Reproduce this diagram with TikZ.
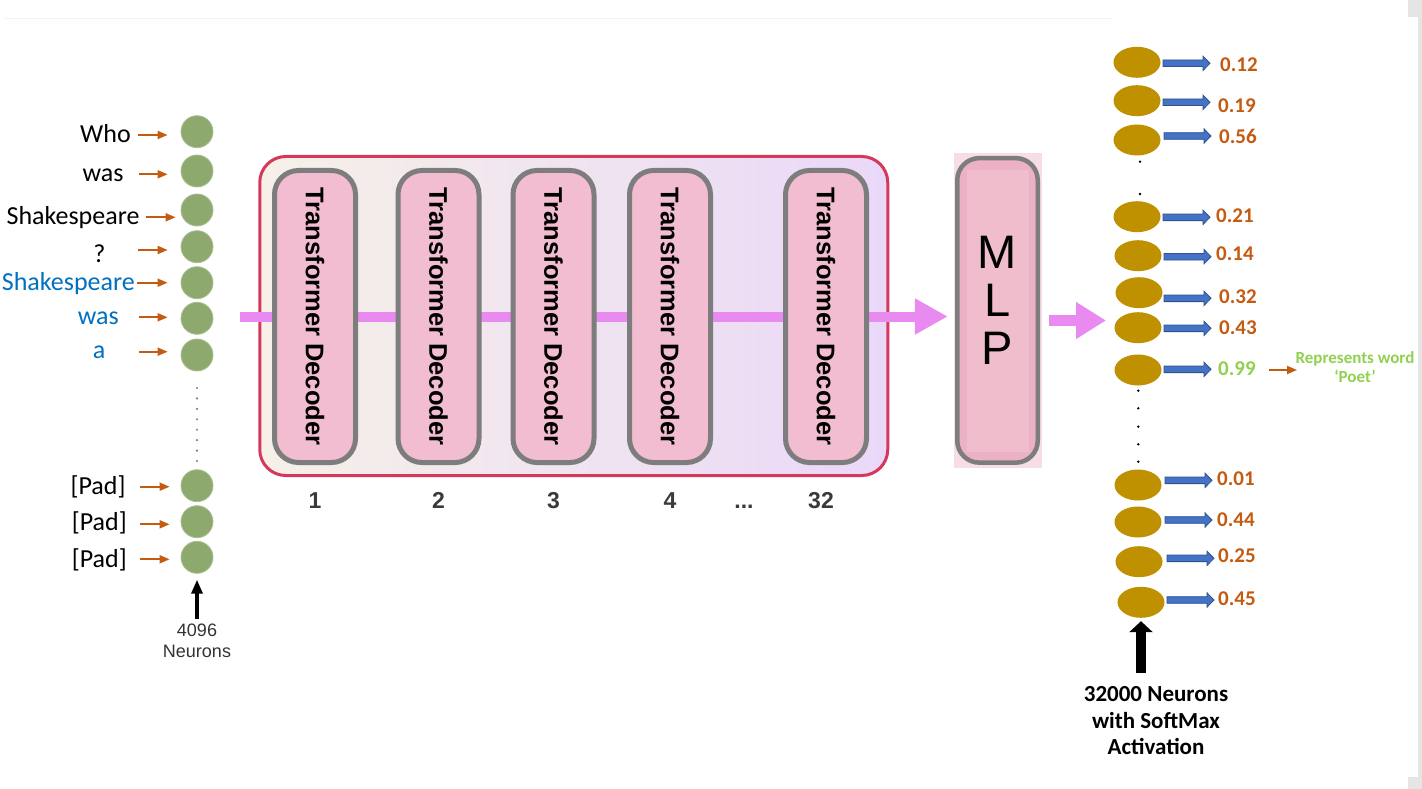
\documentclass[tikz,border=0pt]{standalone}
\usepackage{fontspec}
\setmainfont{Carlito}
\newfontfamily\helvfont{Liberation Sans}
\usetikzlibrary{arrows.meta,shapes.geometric}

% palette
\definecolor{neurongreen}{RGB}{142,169,110}
\definecolor{tokorange}{RGB}{197,90,17}
\definecolor{tokblue}{RGB}{0,112,192}
\definecolor{flowpink}{RGB}{233,138,240}
\definecolor{framered}{RGB}{214,56,92}
\definecolor{stackL}{RGB}{246,240,232}
\definecolor{stackM}{RGB}{246,220,236}
\definecolor{stackR}{RGB}{234,216,248}
\definecolor{blockpink}{RGB}{242,188,209}
\definecolor{blockgrey}{RGB}{125,125,125}
\definecolor{mlpback}{RGB}{247,221,229}
\definecolor{mlpfill}{RGB}{236,177,196}
\definecolor{mlpinner}{RGB}{240,189,205}
\definecolor{gold}{RGB}{191,144,0}
\definecolor{arrowblue}{RGB}{68,114,196}
\definecolor{arrowedge}{RGB}{47,82,143}
\definecolor{poetgreen}{RGB}{146,208,80}
\definecolor{numgrey}{RGB}{58,58,58}
\definecolor{dotgrey}{RGB}{128,128,128}
\definecolor{edgegrey}{RGB}{229,229,229}

\tikzset{
  neuron/.style={circle, fill=neurongreen, draw=neurongreen!75!white, line width=0.8pt,
    minimum size=32pt, inner sep=0pt},
  tok/.style={anchor=base, inner sep=0pt, font=\fontsize{26}{30}\selectfont},
  tokarr/.style={draw=tokorange, line width=1.8pt, -{Triangle[length=10pt,width=8pt]}},
  stackframe/.style={draw=framered, line width=3pt, rounded corners=26pt,
    minimum width=628pt, minimum height=319pt, inner sep=0pt,
    left color=stackL, middle color=stackM, right color=stackR},
  decoder/.style={rotate=-90, draw=blockgrey, line width=5pt, fill=blockpink,
    rounded corners=24pt, minimum width=292pt, minimum height=81pt, inner sep=0pt,
    font=\helvfont\bfseries\fontsize{25.5}{30}\selectfont},
  layernum/.style={anchor=base, inner sep=0pt, text=numgrey,
    font=\helvfont\bfseries\fontsize{23}{27}\selectfont},
  flow/.style={draw=flowpink, line width=10pt, -{Triangle[length=33pt,width=34pt]}},
  outneuron/.style={ellipse, fill=gold, minimum width=47pt, minimum height=31pt, inner sep=0pt},
  prob/.style={anchor=west, inner sep=0pt, font=\bfseries\fontsize{21}{25}\selectfont},
  blockarrow/.pic={\draw[draw=arrowedge, fill=arrowblue, line width=0.8pt]
    (0,-3.3) -- (40,-3.3) -- (40,-7.2) -- (47,0) -- (40,7.2) -- (40,3.3) -- (0,3.3) -- cycle;},
}

\begin{document}
\begin{tikzpicture}[x=1pt,y=-1pt]
\useasboundingbox (0,0) rectangle (1422,789);
\fill[white] (0,0) rectangle (1422,789);

% page edge and faint rule
\draw[black!5, line width=1pt] (5,19) -- (1113,19);
\fill[edgegrey] (1408,0) rectangle (1422,17);
\fill[edgegrey] (1418,0) rectangle (1422,789);
\fill[edgegrey] (1408,777) rectangle (1422,789);

% ---------- input tokens ----------
\foreach \i/\y in {1/131.7, 2/171, 3/210, 4/246.7, 5/282.7, 6/318.3, 7/355,
                   8/485.7, 9/521.7, 10/557.3}
  \node[neuron] (c\i) at (197,\y) {};

\node[tok] (w1) at (105.5,142.7) {Who};
\node[tok] (w2) at (103,181.7) {was};
\node[tok] (w3) at (73,224.5) {Shakespeare};
\node[tok] (w4) at (99.5,262.5) {?};
\node[tok, text=tokblue] (w5) at (68.3,290) {Shakespeare};
\node[tok, text=tokblue] (w6) at (98.3,324) {was};
\node[tok, text=tokblue] (w7) at (99,358.3) {a};
\node[tok] (w8) at (98,494.3) {[Pad]};
\node[tok] (w9) at (99.3,530.7) {[Pad]};
\node[tok] (w10) at (99.3,567) {[Pad]};

\foreach \i/\x/\y/\s in {1/138/135/13, 2/139/174.3/13, 3/146/217.3/5, 4/138/250/13,
                         5/137/282.7/13, 6/139/317.3/13, 7/139/351.7/13,
                         8/140/486.7/11, 9/140/524.3/11, 10/140/559.3/11} {
  \coordinate (t\i) at (\x,\y);
  \draw[tokarr, shorten >=\s pt] (t\i) -- (t\i -| c\i.west);
}

% elided neurons
\foreach \k in {0,...,7}
  \fill[dotgrey] (197,388+10.43*\k) circle (1.2pt);

\node[align=center, inner sep=0pt, text=black!80, font=\helvfont\fontsize{18}{21}\selectfont]
  (inlabel) at (197,641.2) {4096\\Neurons};
\draw[black, line width=3.3pt, -{Triangle[length=14pt,width=11pt]},
      shorten <=5pt, shorten >=6pt] (inlabel.north) -- (c10.south);

% ---------- decoder stack ----------
\node[stackframe] (stack) at (573.75,316) {};

% MLP block (drawn early so the flow arrow can refer to it)
\node[fill=mlpback, minimum width=88pt, minimum height=315pt, inner sep=0pt] (mlpbg) at (998,310.5) {};
\node[draw=blockgrey, line width=4.5pt, fill=mlpfill, rounded corners=22pt,
      minimum width=80.5pt, minimum height=304.5pt, inner sep=0pt] (mlp) at (997.5,310.4) {};
\node[fill=mlpinner, minimum width=62pt, minimum height=282pt, inner sep=0pt] (mlpcore) at (998,311) {};
\node[align=center, inner sep=0pt, font=\helvfont\fontsize{47}{48}\selectfont] (mlptext) at (997.5,300) {M\\L\\P};

\coordinate (flowin) at (240,316.5);
\draw[flow, shorten >=6pt] (flowin) -- (flowin -| mlpbg.west);

\foreach \i/\x in {1/315, 2/438.5, 3/553.5, 4/670, 5/826}
  \node[decoder] (d\i) at (\x,316.5) {Transformer Decoder};

\coordinate (numline) at (0,508);
\node[layernum] (n1) at (d1 |- numline) {1};
\node[layernum] (n2) at (d2 |- numline) {2};
\node[layernum] (n3) at (d3 |- numline) {3};
\node[layernum] (n4) at (d4 |- numline) {4};
\node[layernum] (ndots) at (744,508) {...};
\node[layernum] (n5) at (821,508) {32};

\coordinate (flowout) at (1106,320.5);
\draw[draw=flowpink, line width=11pt, -{Triangle[length=30pt,width=35pt]}, shorten <=7pt]
  (mlpbg.east |- flowout) -- (flowout);

% ---------- output layer ----------
\foreach \i/\ex/\ey/\ax/\ay/\vx/\vy/\val/\col in {
    1/1137/62.3/1163/63.3/1220/65/0.12/tokorange,
    2/1137/100.7/1163/102.3/1218/105.5/0.19/tokorange,
    3/1137/140/1164/136/1219/136/0.56/tokorange,
    4/1137/216.7/1163/217.3/1216/215.5/0.21/tokorange,
    5/1138/255.7/1164/256.7/1216/253.7/0.14/tokorange,
    6/1139/292.7/1164/298.3/1219/296.5/0.32/tokorange,
    7/1138/327.7/1164/328.3/1219/327.5/0.43/tokorange,
    8/1138/370/1164/369.3/1218/369/0.99/poetgreen,
    9/1138/485/1165/480.3/1217/479/0.01/tokorange,
    10/1138/522/1165/520/1217/519.7/0.44/tokorange,
    11/1139/561.7/1167/558.3/1218/556/0.25/tokorange,
    12/1141/602.3/1167/600/1218/598.7/0.45/tokorange} {
  \node[outneuron] (o\i) at (\ex,\ey) {};
  \pic at (\ax,\ay) {blockarrow};
  \node[prob, text=\col] (v\i) at (\vx,\vy) {\val};
}

% elided output neurons
\foreach \y in {161.7,194}
  \fill[black] (1140,\y) circle (1.3pt);
\foreach \y in {390.7,408.3,426.7,444.3,461.7}
  \fill[black] (1138.3,\y) circle (1.3pt);

% meaning of the top probability
\node[align=center, inner sep=0pt, text=poetgreen,
      font=\bfseries\fontsize{17}{18.7}\selectfont] (poet) at (1355,367) {Represents word\\‘Poet’};
\coordinate (poettip) at (1297,370);
\draw[tokarr, shorten <=13pt] (v8.east |- poettip) -- (poettip);

\node[anchor=north, align=center, inner sep=0pt,
      font=\bfseries\fontsize{23}{26.5}\selectfont] (outlabel) at (1156,686.6)
  {32000 Neurons\\with SoftMax\\Activation};
\draw[black, line width=10.7pt, -{Triangle[length=11pt,width=23pt]},
      shorten <=13.6pt, shorten >=3.2pt] (o12.south |- outlabel.north) -- (o12.south);
\end{tikzpicture}
\end{document}
